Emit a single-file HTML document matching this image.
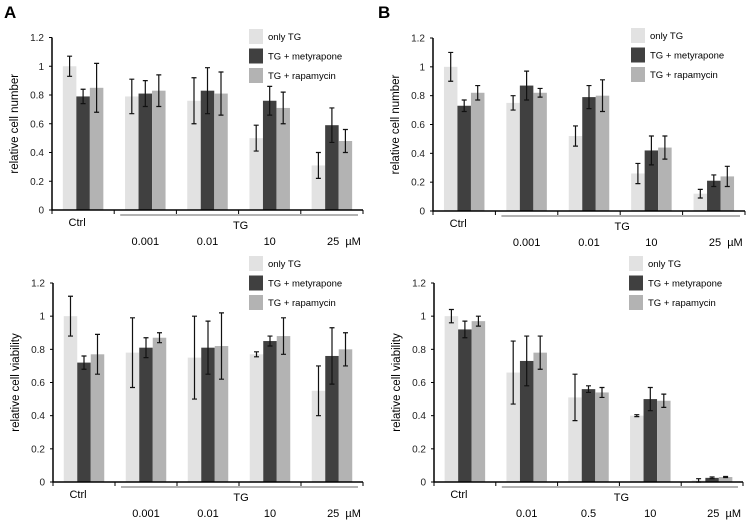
<!DOCTYPE html>
<html><head><meta charset="utf-8"><style>
html,body{margin:0;padding:0;background:#fff}
svg{display:block;font-family:"Liberation Sans",sans-serif}
text{white-space:pre}
</style></head><body>
<svg id="fig" width="749" height="522" viewBox="0 0 749 522">
<text x="4" y="18" font-size="17" font-weight="bold">A</text>
<text x="378" y="18" font-size="17" font-weight="bold">B</text>
</svg>
<script>
const seriesNames = ["only TG", "TG + metyrapone", "TG + rapamycin"];
const yTicks = [0, 0.2, 0.4, 0.6, 0.8, 1, 1.2];
const yTickLabels = ["0", "0.2", "0.4", "0.6", "0.8", "1", "1.2"];
const catA = ["Ctrl", "0.001", "0.01", "10", "25  µM"];
const catB = ["Ctrl", "0.001", "0.01", "10", "25  µM"];
const catC = ["Ctrl", "0.001", "0.01", "10", "25  µM"];
const catD = ["Ctrl", "0.01", "0.5", "10", "25  µM"];
const aOnly = [1, 0.79, 0.76, 0.5, 0.31], aOnlyErr = [0.07, 0.12, 0.16, 0.09, 0.09];
const aMet = [0.79, 0.81, 0.83, 0.76, 0.59], aMetErr = [0.05, 0.09, 0.16, 0.1, 0.12];
const aRap = [0.85, 0.83, 0.81, 0.71, 0.48], aRapErr = [0.17, 0.11, 0.15, 0.11, 0.08];
const bOnly = [1, 0.75, 0.52, 0.26, 0.12], bOnlyErr = [0.1, 0.05, 0.07, 0.07, 0.03];
const bMet = [0.73, 0.87, 0.79, 0.42, 0.21], bMetErr = [0.04, 0.1, 0.08, 0.1, 0.04];
const bRap = [0.82, 0.82, 0.8, 0.44, 0.24], bRapErr = [0.05, 0.03, 0.11, 0.08, 0.07];
const cOnly = [1, 0.78, 0.75, 0.77, 0.55], cOnlyErr = [0.12, 0.21, 0.25, 0.015, 0.15];
const cMet = [0.72, 0.81, 0.81, 0.85, 0.76], cMetErr = [0.04, 0.06, 0.16, 0.03, 0.17];
const cRap = [0.77, 0.87, 0.82, 0.88, 0.8], cRapErr = [0.12, 0.03, 0.2, 0.11, 0.1];
const dOnly = [1, 0.66, 0.51, 0.4, 0.01], dOnlyErr = [0.04, 0.19, 0.14, 0.006, 0.01];
const dMet = [0.92, 0.73, 0.56, 0.5, 0.025], dMetErr = [0.05, 0.15, 0.02, 0.07, 0.005];
const dRap = [0.97, 0.78, 0.54, 0.49, 0.03], dRapErr = [0.03, 0.1, 0.03, 0.04, 0.003];

const NS = "http://www.w3.org/2000/svg";
const svg = document.getElementById("fig");
const colors = ["#e2e2e2", "#404040", "#b3b3b3"];
function mk(tag, attrs, parent) {
  const e = document.createElementNS(NS, tag);
  for (const k in attrs) e.setAttribute(k, attrs[k]);
  (parent || svg).appendChild(e);
  return e;
}
function panel(id, x0, x1, y0, y1, cats, vals, errs, yTitle, legY) {
  const g = mk("g", {});
  
  
  const ys = v => y0 - (v / 1.2) * (y0 - y1);
  const cw = (x1 - x0) / cats.length;
  const bw = 13.5;
  const xs = (i, s) => x0 + cw * i + cw / 2 - 1.5 * bw + s * bw;
  for (let s = 0; s < 3; s++) {
    for (let i = 0; i < cats.length; i++) {
      const v = vals[s][i], e = errs[s][i];
      const r = mk("rect", {x: xs(i, s), y: ys(v), width: bw, height: y0 - ys(v), fill: colors[s]}, g);
      
      
      const cx = xs(i, s) + bw / 2;
      const eb = mk("path", {d: `M${cx},${ys(v - e)}V${ys(v + e)}M${cx - 2.5},${ys(v - e)}h5M${cx - 2.5},${ys(v + e)}h5`, stroke: "#111", "stroke-width": 1.2, fill: "none"}, g);
      
      
    }
  }
  const ax = mk("path", {d: `M${x0},${y1}V${y0}H${x1}`, stroke: "#000", "stroke-width": 1.5, fill: "none"}, g);
  
  
  for (let i = 0; i < yTicks.length; i++) {
    mk("line", {x1: x0 - 3, x2: x0, y1: ys(yTicks[i]), y2: ys(yTicks[i]), stroke: "#000"}, g);
    const t = mk("text", {x: x0 - 8, y: ys(yTicks[i]) + 3.5, "font-size": 10, "text-anchor": "end", fill: "#222"}, g);
    t.textContent = yTickLabels[i];
    
    
  }
  for (let i = 0; i <= cats.length; i++) mk("line", {x1: x0 + cw * i, x2: x0 + cw * i, y1: y0, y2: y0 + 4, stroke: "#000"}, g);
  const tl = mk("line", {x1: x0 + cw + 6, x2: x1 - 5, y1: y0 + 5, y2: y0 + 5, stroke: "#666", "stroke-width": 1}, g);
  
  
  const ct = mk("text", {x: x0 + cw / 2 - 6, y: y0 + 16, "font-size": 11, "text-anchor": "middle"}, g);
  ct.textContent = cats[0];
  
  
  const tg = mk("text", {x: x0 + cw * 3 + 2, y: y0 + 19, "font-size": 11, "text-anchor": "middle"}, g);
  tg.textContent = "TG";
  
  
  for (let i = 1; i < cats.length; i++) {
    const t = mk("text", {x: x0 + cw * i + cw / 2 + (i === cats.length - 1 ? 12 : 0), y: y0 + 35, "font-size": 11, "text-anchor": "middle"}, g);
    t.textContent = cats[i];
    
    
  }
  const yt = mk("text", {transform: `translate(${x0 - 34},${(y0 + y1) / 2}) rotate(-90)`, "font-size": 11.5, "text-anchor": "middle"}, g);
  yt.textContent = yTitle;
  
  
  const lx = x1 - 114;
  for (let s = 0; s < 3; s++) {
    const ly = legY + s * 19.5;
    const sw = mk("rect", {x: lx, y: ly, width: 14, height: 15, fill: colors[s]}, g);
    
    
    const lt = mk("text", {x: lx + 19, y: ly + 11, "font-size": 9.5}, g);
    lt.textContent = seriesNames[s];
    
    
  }
}
panel("panel-a-cell-number", 52, 363, 210, 37.5, catA, [aOnly, aMet, aRap], [aOnlyErr, aMetErr, aRapErr], "relative cell number", 29);
panel("panel-b-cell-number", 433, 745, 211, 38, catB, [bOnly, bMet, bRap], [bOnlyErr, bMetErr, bRapErr], "relative cell number", 28);
panel("panel-a-viability", 53, 363, 482, 283, catC, [cOnly, cMet, cRap], [cOnlyErr, cMetErr, cRapErr], "relative cell viability", 256);
panel("panel-b-viability", 434, 743, 482, 283, catD, [dOnly, dMet, dRap], [dOnlyErr, dMetErr, dRapErr], "relative cell viability", 256);
</script>
</body></html>
